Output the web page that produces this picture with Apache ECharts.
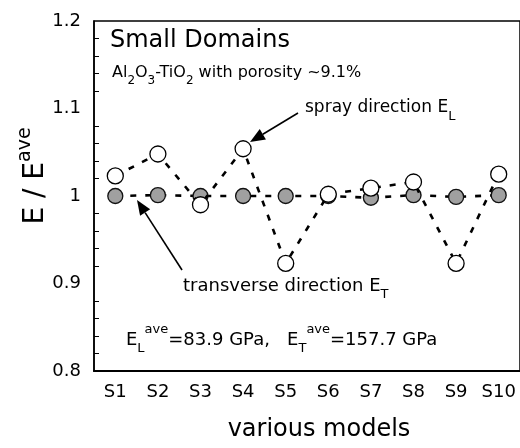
<!DOCTYPE html>
<html>
<head>
<meta charset="utf-8">
<script src="https://cdn.jsdelivr.net/npm/echarts@6/dist/echarts.min.js"></script>
<style>
html,body{margin:0;padding:0;background:#fff;}
#chart{width:520px;height:448px;}
</style>
</head>
<body>
<div id="chart"></div>
<script>
// ---- data ----
const categories = ['S1','S2','S3','S4','S5','S6','S7','S8','S9','S10'];
const sprayEL = [1.023, 1.048, 0.990, 1.054, 0.923, 1.002, 1.009, 1.016, 0.923, 1.025];
const transverseET = [1.000, 1.001, 1.000, 1.000, 1.000, 1.000, 0.998, 1.001, 0.999, 1.001];
const yTickLabels = ['0.8', '0.9', '1', '1.1', '1.2'];

const FONT = '"DejaVu Sans", "Liberation Sans", Arial, sans-serif';

function arrow(tail, tip) {
  const dx = tip[0] - tail[0], dy = tip[1] - tail[1];
  const L = Math.sqrt(dx*dx + dy*dy);
  const ux = dx / L, uy = dy / L;
  const hl = 15, hw = 6;
  const bx = tip[0] - hl*ux, by = tip[1] - hl*uy;
  const px = -uy*hw, py = ux*hw;
  return [
    { type: 'line', shape: { x1: tail[0], y1: tail[1], x2: bx, y2: by },
      style: { stroke: '#000', lineWidth: 1.6 }, z: 20 },
    { type: 'polygon', shape: { points: [tip, [bx+px, by+py], [bx-px, by-py]] },
      style: { fill: '#000' }, z: 20 }
  ];
}

function tok(size, lh, pad, va) {
  return { fontFamily: FONT, fontSize: size, lineHeight: lh, fill: '#000', color: '#000',
           verticalAlign: va || 'top', padding: [pad, 0, 0, 0] };
}

const chart = echarts.init(document.getElementById('chart'), null, { renderer: 'canvas' });

const option = {
  backgroundColor: '#fff',
  animation: false,
  grid: { left: 94, right: 0, top: 21, bottom: 77, show: true, borderColor: '#000', borderWidth: 1.5, backgroundColor: 'transparent' },
  xAxis: {
    type: 'category',
    data: categories,
    boundaryGap: true,
    name: 'various models',
    nameLocation: 'middle',
    nameGap: 47,
    nameTextStyle: { fontFamily: FONT, fontSize: 24, color: '#000', padding: [0, 0, 0, 24] },
    axisLine: { lineStyle: { color: '#000', width: 2 } },
    axisTick: { inside: true, alignWithLabel: true, interval: 0, length: 7, lineStyle: { color: '#000', width: 1 } },
    axisLabel: { fontFamily: FONT, fontSize: 18, color: '#000', margin: 12, interval: 0, hideOverlap: false },
    splitLine: { show: false }
  },
  yAxis: {
    type: 'value',
    min: 0.8, max: 1.2, interval: 0.1,
    axisLine: { show: true, lineStyle: { color: '#000', width: 1.5 } },
    axisTick: { inside: true, length: 8, lineStyle: { color: '#000', width: 1 } },
    minorTick: { show: true, splitNumber: 5, length: 5, lineStyle: { color: '#000', width: 1 } },
    axisLabel: {
      fontFamily: FONT, fontSize: 18, color: '#000', margin: 13,
      formatter: function (v) {
        const idx = Math.round((v - 0.8) / 0.1);
        return yTickLabels[idx];
      }
    },
    splitLine: { show: false }
  },
  series: [
    {
      name: 'transverse direction E_T',
      type: 'line',
      data: transverseET,
      symbol: 'circle',
      symbolSize: 15,
      z: 3,
      itemStyle: { color: '#a0a0a0', borderColor: '#111', borderWidth: 1.3 },
      lineStyle: { color: '#000', width: 2.6, type: [6, 9] }
    },
    {
      name: 'spray direction E_L',
      type: 'line',
      data: sprayEL,
      symbol: 'circle',
      symbolSize: 16,
      z: 4,
      itemStyle: { color: '#fff', borderColor: '#000', borderWidth: 1.3 },
      lineStyle: { color: '#000', width: 2.6, type: [6, 9] }
    }
  ],
  graphic: [
    // y axis title
    { type: 'text', x: 31, y: 176, rotation: Math.PI / 2, z: 20,
      style: {
        text: '{m|E / E}{s|ave}', align: 'center', verticalAlign: 'middle',
        rich: { m: tok(28, 30, 6), s: tok(19, 19, 0) }
      } },
    { type: 'text', left: 110, top: 29, z: 20,
      style: { text: 'Small Domains', font: '24px ' + FONT, fill: '#000' } },
    { type: 'text', left: 112, top: 65, z: 20,
      style: {
        text: '{a|Al}{b|2}{a|O}{b|3}{a|-TiO}{b|2}{a| with porosity ~9.1%}',
        rich: { a: tok(16, 18, 0), b: tok(12, 12, 10) }
      } },
    { type: 'text', left: 305, top: 99, z: 20,
      style: {
        text: '{a|spray direction E}{b|L}',
        rich: { a: tok(17, 20, 0), b: tok(13, 13, 11) }
      } },
    { type: 'text', left: 183, top: 277, z: 20,
      style: {
        text: '{a|transverse direction E}{b|T}',
        rich: { a: tok(18, 20, 0), b: tok(13, 13, 11) }
      } },
    { type: 'text', left: 126, top: 323, z: 20,
      style: {
        text: '{a|E}{b|L}{c|ave}{a|=83.9 GPa,   E}{b|T}{c|ave}{a|=157.7 GPa}',
        rich: { a: tok(18, 20, 8), b: tok(13, 13, 19), c: tok(13, 13, 0) }
      } }
  ].concat(arrow([298, 113], [250, 142])).concat(arrow([182, 270], [137, 200]))
};

chart.setOption(option);
</script>
</body>
</html>
